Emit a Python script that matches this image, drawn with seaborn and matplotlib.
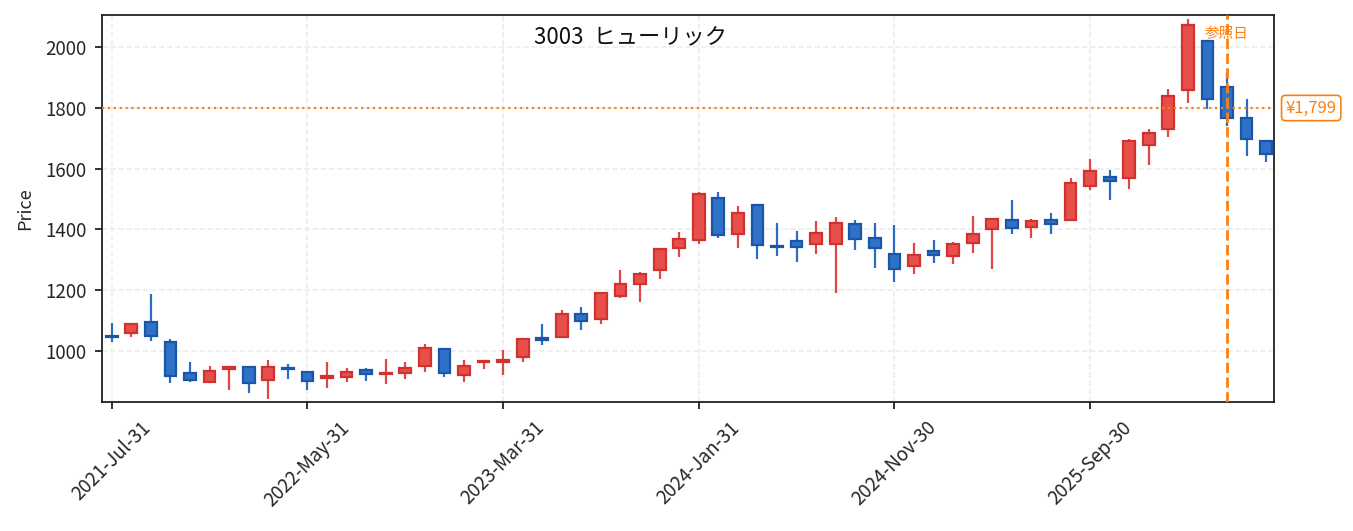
import matplotlib
matplotlib.use("Agg")
import matplotlib.pyplot as plt
import matplotlib.transforms as mtransforms
import seaborn as sns
import pandas as pd
import numpy as np

# monthly OHLC, 2021-07 .. 2026-06 (month end)
dates = pd.date_range("2021-07-31", periods=60, freq="ME")
opens = [1049, 1058, 1096, 1031, 929, 897, 940, 946, 904, 944,
         930, 912, 914, 937, 925, 927, 950, 1006, 920, 962,
         964, 979, 1044, 1046, 1120, 1105, 1180, 1219, 1265, 1338,
         1365, 1504, 1385, 1479, 1346, 1360, 1352, 1351, 1417, 1373,
         1320, 1280, 1330, 1312, 1355, 1400, 1432, 1407, 1432, 1430,
         1542, 1571, 1568, 1677, 1730, 1858, 2020, 1868, 1765, 1692]
highs = [1091, 1091, 1188, 1039, 963, 951, 951, 946, 970, 957,
         934, 962, 944, 944, 974, 964, 1023, 1006, 970, 969,
         1003, 1040, 1089, 1135, 1145, 1193, 1266, 1259, 1335, 1392,
         1524, 1523, 1477, 1479, 1421, 1395, 1428, 1441, 1431, 1421,
         1415, 1355, 1365, 1359, 1444, 1433, 1497, 1433, 1454, 1569,
         1632, 1595, 1697, 1730, 1862, 2092, 2021, 1919, 1829, 1692]
lows = [1029, 1047, 1034, 896, 899, 897, 872, 863, 842, 909,
        872, 878, 898, 902, 892, 908, 932, 913, 898, 939,
        922, 965, 1021, 1046, 1070, 1087, 1175, 1162, 1238, 1310,
        1352, 1370, 1340, 1304, 1313, 1294, 1320, 1189, 1333, 1274,
        1228, 1254, 1290, 1287, 1323, 1271, 1386, 1372, 1385, 1430,
        1530, 1497, 1534, 1613, 1705, 1817, 1797, 1741, 1642, 1620]
closes = [1045, 1087, 1049, 918, 905, 935, 946, 894, 946, 941,
          901, 916, 930, 924, 929, 943, 1009, 927, 950, 968,
          969, 1040, 1037, 1121, 1100, 1190, 1219, 1252, 1335, 1367,
          1516, 1382, 1455, 1349, 1343, 1343, 1387, 1420, 1368, 1339,
          1270, 1317, 1316, 1351, 1384, 1433, 1404, 1427, 1418, 1552,
          1591, 1559, 1690, 1717, 1840, 2072, 1829, 1767, 1697, 1648]

ref_index = 57
ref_price = 1799
ticker = "3003  ヒューリック"

sns.set_theme(style="ticks")
plt.rcParams['font.family'] = ['Noto Sans CJK JP', 'DejaVu Sans']

df = pd.DataFrame({"date": dates, "open": opens, "high": highs,
                   "low": lows, "close": closes})
df["x"] = np.arange(len(df))
up = df["close"] >= df["open"]

fig = plt.figure(figsize=(13.53, 5.31), dpi=100)
ax = fig.add_axes([0.0754, 0.2429, 0.8662, 0.7289])

up_fill, up_edge, up_wick = "#e84f4b", "#d0332f", "#e24545"
dn_fill, dn_edge, dn_wick = "#2e72c8", "#1a55a8", "#2a6cc4"

# wicks
ax.vlines(df["x"], df["low"], df["high"],
          colors=np.where(up, up_wick, dn_wick), linewidth=1.6, zorder=2)

# bodies
body_bottom = df[["open", "close"]].min(axis=1)
body_height = (df["close"] - df["open"]).abs()
ax.bar(df["x"], body_height, bottom=body_bottom, width=0.6,
       color=np.where(up, up_fill, dn_fill),
       edgecolor=np.where(up, up_edge, dn_edge), linewidth=1.6, zorder=3)

ax.set_xlim(-0.5, 59.4)
ax.set_ylim(832, 2105)
ax.set_yticks([1000, 1200, 1400, 1600, 1800, 2000])

tick_pos = list(range(0, 60, 10))
ax.set_xticks(tick_pos)
ax.set_xticklabels([df["date"][i].strftime("%Y-%b-%d") for i in tick_pos],
                   rotation=45)

ax.grid(True, linestyle="--", color="#ebebeb", linewidth=1.1, zorder=0)
ax.set_axisbelow(True)
for s in ax.spines.values():
    s.set_color("#222222")
    s.set_linewidth(1.3)
ax.tick_params(axis="both", labelsize=13.5, length=5, width=1.3,
               color="#222222", pad=6)
ax.set_ylabel("Price", fontsize=13, labelpad=8)
ax.set_xlabel("")

# reference lines
ax.axhline(ref_price, color="#ff7f0e", linestyle=":", linewidth=1.6, zorder=4)
ax.axvline(ref_index, color="#ff7f0e", linestyle="--", linewidth=2, zorder=4)

trans = mtransforms.blended_transform_factory(ax.transData, ax.transAxes)
ax.text(ref_index, 0.95, "参照日", transform=trans, ha="center", va="center",
        color="#ff7f0e", fontsize=10.5, zorder=5)

trans2 = mtransforms.blended_transform_factory(ax.transAxes, ax.transData)
ax.text(1.01, ref_price, f"¥{ref_price:,}", transform=trans2, ha="left",
        va="center", color="#ff7f0e", fontsize=12,
        bbox=dict(boxstyle="round,pad=0.25", fc="white", ec="#ff7f0e", lw=1.2))

ax.text(0.451, 0.94, ticker, transform=ax.transAxes, ha="center",
        va="center", fontsize=16, color="#111111")

fig.savefig("out.png", dpi=100)
